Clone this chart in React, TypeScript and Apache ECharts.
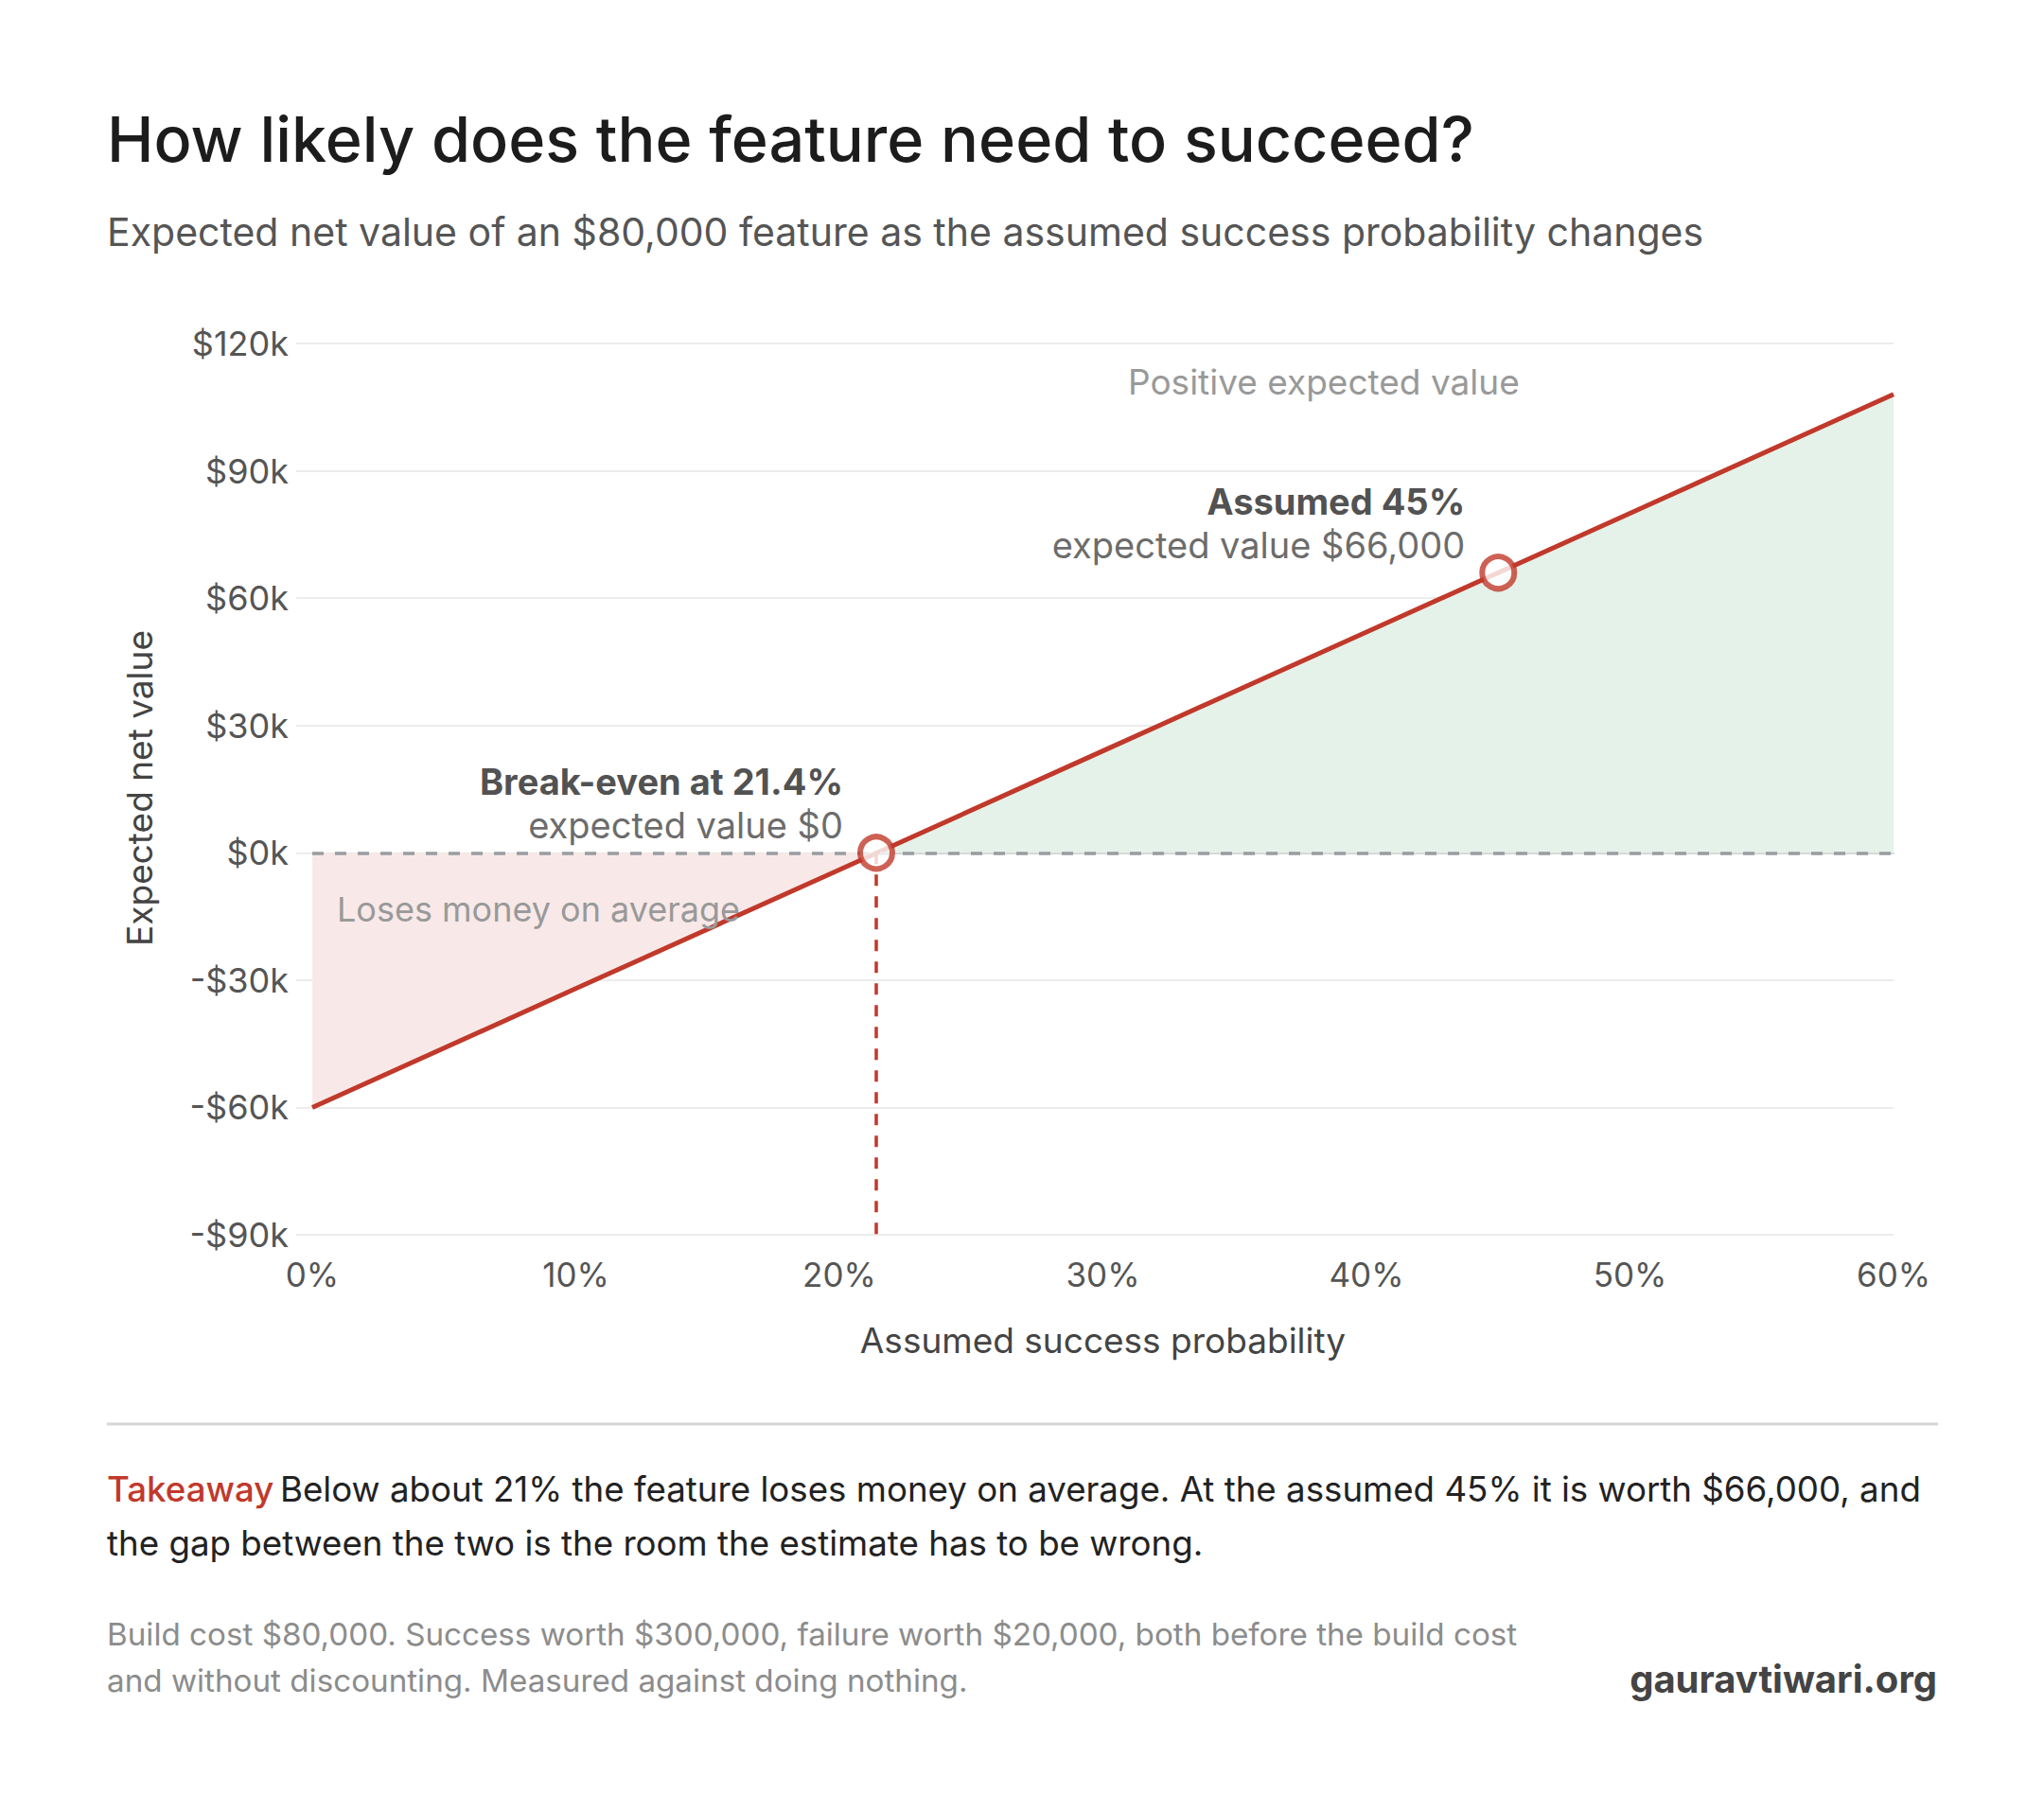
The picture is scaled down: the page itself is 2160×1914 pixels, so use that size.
import { useEffect, useRef } from 'react';
import * as echarts from 'echarts';

// success probability (%) and expected net value ($)
const probabilities = [0, 10, 20, 30, 40, 50, 60];
const expectedValues = [-60000, -32000, -4000, 24000, 52000, 80000, 108000];

const breakEven: [number, number] = [21.4, 0];
const assumed: [number, number] = [45, 66000];

const yTicks = [-90000, -60000, -30000, 0, 30000, 60000, 90000, 120000];
const xTicks = [0, 10, 20, 30, 40, 50, 60];

const title = 'How likely does the feature need to succeed?';
const subtitle = 'Expected net value of an $80,000 feature as the assumed success probability changes';
const takeawayLine1 = 'Below about 21% the feature loses money on average. At the assumed 45% it is worth $66,000, and';
const takeawayLine2 = 'the gap between the two is the room the estimate has to be wrong.';
const footnote1 = 'Build cost $80,000. Success worth $300,000, failure worth $20,000, both before the build cost';
const footnote2 = 'and without discounting. Measured against doing nothing.';

const RED = '#c0392b';
const FONT = 'Inter, "Noto Sans", sans-serif';

const fmtMoney = (v: number) => (v < 0 ? '-' : '') + '$' + Math.abs(v / 1000) + 'k';

const annotationRich = {
  b: { fontSize: 38, fontWeight: 700, color: '#222', lineHeight: 46, align: 'right', fontFamily: FONT },
  n: { fontSize: 38, color: '#444', lineHeight: 46, align: 'right', fontFamily: FONT },
} as const;

export default function App() {
  const chartRef = useRef<HTMLDivElement>(null);

  useEffect(() => {
    if (!chartRef.current) {
      return;
    }
    const chart = echarts.init(chartRef.current, null, { renderer: 'svg' });

    const line = probabilities.map((p, i) => [p, expectedValues[i]]);
    const lossArea = [...line.filter((d) => d[0] < breakEven[0]), breakEven];
    const gainArea = [breakEven, ...line.filter((d) => d[0] > breakEven[0])];

    const option: echarts.EChartsOption = {
      animation: false,
      backgroundColor: '#ffffff',
      textStyle: { fontFamily: FONT },
      grid: { left: 330, right: 159, top: 363, bottom: 609 },
      xAxis: {
        type: 'value',
        min: xTicks[0],
        max: xTicks[xTicks.length - 1],
        interval: 10,
        name: 'Assumed success probability',
        nameLocation: 'middle',
        nameGap: 93,
        nameTextStyle: { fontSize: 37, color: '#444', fontFamily: FONT },
        axisLine: { show: true, lineStyle: { color: '#d4d4d4', width: 2 } },
        axisTick: { show: false },
        splitLine: { show: false },
        axisLabel: {
          fontSize: 35,
          color: '#555',
          margin: 24,
          formatter: (v: number) => v + '%',
        },
      },
      yAxis: {
        type: 'value',
        min: yTicks[0],
        max: yTicks[yTicks.length - 1],
        interval: 30000,
        axisLine: { show: false },
        axisTick: { show: true, length: 17, lineStyle: { color: '#ececec', width: 2 } },
        splitLine: { show: true, lineStyle: { color: '#ececec', width: 2 } },
        axisLabel: {
          fontSize: 36,
          color: '#555',
          margin: 25,
          formatter: (v: number) => fmtMoney(v),
        },
      },
      graphic: [
        {
          type: 'text',
          left: 113,
          top: 113,
          z: 10,
          style: { text: title, font: `500 66.5px ${FONT}`, fill: '#1c1c1c' },
        },
        {
          type: 'text',
          left: 113,
          top: 224,
          z: 10,
          style: { text: subtitle, font: `400 41px ${FONT}`, fill: '#555' },
        },
        {
          type: 'text',
          x: 147,
          y: 833,
          z: 10,
          rotation: Math.PI / 2,
          style: {
            text: 'Expected net value',
            font: `400 37px ${FONT}`,
            fill: '#444',
            align: 'center',
            verticalAlign: 'middle',
          },
        },
        {
          type: 'text',
          x: 1192,
          y: 403,
          z: 10,
          style: {
            text: 'Positive expected value',
            font: `400 37px ${FONT}`,
            fill: '#999',
            verticalAlign: 'middle',
          },
        },
        {
          type: 'text',
          x: 356,
          y: 961,
          z: 10,
          style: {
            text: 'Loses money on average',
            font: `400 36px ${FONT}`,
            fill: '#999',
            verticalAlign: 'middle',
          },
        },
        {
          type: 'line',
          z: 10,
          shape: { x1: 113, y1: 1505, x2: 2048, y2: 1505 },
          style: { stroke: '#d6d6d6', lineWidth: 3 },
        },
        {
          type: 'text',
          x: 113,
          y: 1573,
          z: 10,
          style: {
            text: '{t|Takeaway}  {b|' + takeawayLine1 + '}',
            verticalAlign: 'middle',
            rich: {
              t: { font: `500 36.7px ${FONT}`, fill: RED },
              b: { font: `400 36.7px ${FONT}`, fill: '#222' },
            },
          },
        },
        {
          type: 'text',
          x: 113,
          y: 1630,
          z: 10,
          style: {
            text: takeawayLine2,
            font: `400 36.7px ${FONT}`,
            fill: '#222',
            verticalAlign: 'middle',
          },
        },
        {
          type: 'text',
          x: 113,
          y: 1727,
          z: 10,
          style: {
            text: footnote1,
            font: `400 33.2px ${FONT}`,
            fill: '#8c8c8c',
            verticalAlign: 'middle',
          },
        },
        {
          type: 'text',
          x: 113,
          y: 1776,
          z: 10,
          style: {
            text: footnote2,
            font: `400 33.2px ${FONT}`,
            fill: '#8c8c8c',
            verticalAlign: 'middle',
          },
        },
        {
          type: 'text',
          x: 2047,
          y: 1774,
          z: 10,
          style: {
            text: 'gauravtiwari.org',
            font: `700 40px ${FONT}`,
            fill: '#444',
            align: 'right',
            verticalAlign: 'middle',
          },
        },
      ],
      series: [
        {
          name: 'loss',
          type: 'line',
          data: lossArea,
          symbol: 'none',
          lineStyle: { width: 0 },
          areaStyle: { color: '#f8e9e8', opacity: 1, origin: 0 },
          z: 1,
          silent: true,
        },
        {
          name: 'gain',
          type: 'line',
          data: gainArea,
          symbol: 'none',
          lineStyle: { width: 0 },
          areaStyle: { color: '#e5f2ea', opacity: 1, origin: 0 },
          z: 1,
          silent: true,
          markLine: {
            silent: true,
            symbol: 'none',
            label: { show: false },
            lineStyle: { color: '#999ca0', type: [12, 12], width: 3.5 },
            data: [{ yAxis: 0 }],
          },
        },
        {
          name: 'expected value',
          type: 'line',
          data: line,
          symbol: 'none',
          lineStyle: { color: RED, width: 5 },
          z: 3,
          markLine: {
            silent: true,
            symbol: 'none',
            label: { show: false },
            lineStyle: { color: RED, type: [12, 11], width: 3.5 },
            data: [[{ coord: breakEven }, { coord: [breakEven[0], yTicks[0]] }]],
          },
        },
        {
          name: 'markers',
          type: 'scatter',
          symbol: 'circle',
          symbolSize: 34,
          itemStyle: { color: '#ffffff', borderColor: RED, borderWidth: 6 },
          z: 5,
          data: [
            {
              value: breakEven,
              label: {
                show: true,
                position: 'left',
                distance: 15,
                offset: [0, -52],
                align: 'right',
                formatter: '{b|Break-even at 21.4%}\n{n|expected value $0}',
                rich: annotationRich,
              },
            },
            {
              value: assumed,
              label: {
                show: true,
                position: 'left',
                distance: 15,
                offset: [0, -52],
                align: 'right',
                formatter: '{b|Assumed 45%}\n{n|expected value $66,000}',
                rich: annotationRich,
              },
            },
          ],
        },
      ],
    };

    chart.setOption(option);

    return () => {
      chart.dispose();
    };
  }, []);

  return (
    <div
      ref={chartRef}
      style={{ position: 'absolute', left: 0, top: 0, width: '2160px', height: '1914px', background: '#fff' }}
    />
  );
}
